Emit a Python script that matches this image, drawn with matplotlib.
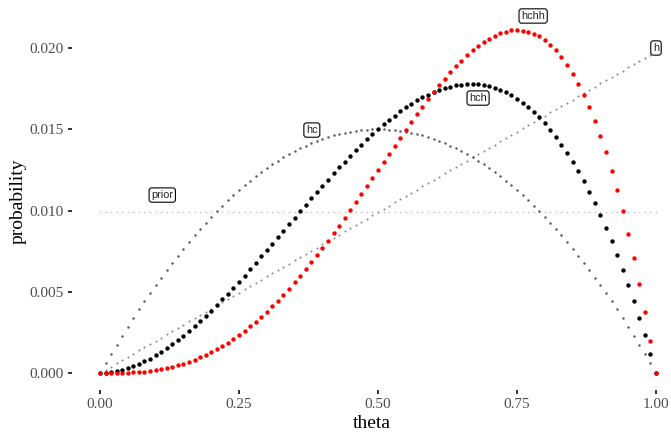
import numpy as np
import matplotlib
matplotlib.use("Agg")
import matplotlib.pyplot as plt

# theta grid (0.00 .. 1.00, step 0.01)
theta = [i / 100 for i in range(101)]

prior = [0.00990] * 101

h = [0.00000, 0.00020, 0.00040, 0.00059, 0.00079, 0.00099, 0.00119, 0.00139, 0.00158, 0.00178,
     0.00198, 0.00218, 0.00238, 0.00257, 0.00277, 0.00297, 0.00317, 0.00337, 0.00356, 0.00376,
     0.00396, 0.00416, 0.00436, 0.00455, 0.00475, 0.00495, 0.00515, 0.00535, 0.00554, 0.00574,
     0.00594, 0.00614, 0.00634, 0.00653, 0.00673, 0.00693, 0.00713, 0.00733, 0.00752, 0.00772,
     0.00792, 0.00812, 0.00832, 0.00851, 0.00871, 0.00891, 0.00911, 0.00931, 0.00950, 0.00970,
     0.00990, 0.01010, 0.01030, 0.01050, 0.01069, 0.01089, 0.01109, 0.01129, 0.01149, 0.01168,
     0.01188, 0.01208, 0.01228, 0.01248, 0.01267, 0.01287, 0.01307, 0.01327, 0.01347, 0.01366,
     0.01386, 0.01406, 0.01426, 0.01446, 0.01465, 0.01485, 0.01505, 0.01525, 0.01545, 0.01564,
     0.01584, 0.01604, 0.01624, 0.01644, 0.01663, 0.01683, 0.01703, 0.01723, 0.01743, 0.01762,
     0.01782, 0.01802, 0.01822, 0.01842, 0.01861, 0.01881, 0.01901, 0.01921, 0.01941, 0.01960,
     0.01980]

hc = [0.00000, 0.00059, 0.00118, 0.00175, 0.00230, 0.00285, 0.00338, 0.00391, 0.00442, 0.00491,
      0.00540, 0.00587, 0.00634, 0.00679, 0.00722, 0.00765, 0.00806, 0.00847, 0.00886, 0.00924,
      0.00960, 0.00996, 0.01030, 0.01063, 0.01095, 0.01125, 0.01155, 0.01183, 0.01210, 0.01236,
      0.01260, 0.01284, 0.01306, 0.01327, 0.01347, 0.01365, 0.01383, 0.01399, 0.01414, 0.01428,
      0.01440, 0.01452, 0.01462, 0.01471, 0.01479, 0.01485, 0.01491, 0.01495, 0.01498, 0.01500,
      0.01500, 0.01500, 0.01498, 0.01495, 0.01491, 0.01485, 0.01479, 0.01471, 0.01462, 0.01452,
      0.01440, 0.01428, 0.01414, 0.01399, 0.01383, 0.01365, 0.01347, 0.01327, 0.01306, 0.01284,
      0.01260, 0.01236, 0.01210, 0.01183, 0.01155, 0.01125, 0.01095, 0.01063, 0.01030, 0.00996,
      0.00960, 0.00924, 0.00886, 0.00847, 0.00806, 0.00765, 0.00722, 0.00679, 0.00634, 0.00587,
      0.00540, 0.00491, 0.00442, 0.00391, 0.00338, 0.00285, 0.00230, 0.00175, 0.00118, 0.00059,
      0.00000]

hch = [0.00000, 0.00001, 0.00005, 0.00010, 0.00018, 0.00029, 0.00041, 0.00055, 0.00071, 0.00088,
       0.00108, 0.00129, 0.00152, 0.00176, 0.00202, 0.00230, 0.00258, 0.00288, 0.00319, 0.00351,
       0.00384, 0.00418, 0.00453, 0.00489, 0.00525, 0.00563, 0.00600, 0.00639, 0.00677, 0.00717,
       0.00756, 0.00796, 0.00836, 0.00876, 0.00916, 0.00956, 0.00995, 0.01035, 0.01074, 0.01113,
       0.01152, 0.01190, 0.01228, 0.01265, 0.01301, 0.01337, 0.01371, 0.01405, 0.01438, 0.01470,
       0.01500, 0.01530, 0.01558, 0.01584, 0.01610, 0.01634, 0.01656, 0.01677, 0.01696, 0.01713,
       0.01728, 0.01742, 0.01753, 0.01762, 0.01770, 0.01775, 0.01777, 0.01778, 0.01776, 0.01771,
       0.01764, 0.01754, 0.01742, 0.01727, 0.01709, 0.01688, 0.01664, 0.01637, 0.01606, 0.01573,
       0.01536, 0.01496, 0.01453, 0.01405, 0.01355, 0.01301, 0.01243, 0.01181, 0.01115, 0.01046,
       0.00972, 0.00894, 0.00813, 0.00727, 0.00636, 0.00542, 0.00442, 0.00339, 0.00231, 0.00118,
       0.00000]

hchh = [0.00000, 0.00000, 0.00000, 0.00001, 0.00001, 0.00002, 0.00004, 0.00006, 0.00009, 0.00013,
        0.00018, 0.00024, 0.00030, 0.00038, 0.00047, 0.00057, 0.00069, 0.00082, 0.00096, 0.00111,
        0.00128, 0.00146, 0.00166, 0.00187, 0.00210, 0.00234, 0.00260, 0.00287, 0.00316, 0.00346,
        0.00378, 0.00411, 0.00446, 0.00482, 0.00519, 0.00557, 0.00597, 0.00638, 0.00681, 0.00724,
        0.00768, 0.00813, 0.00860, 0.00907, 0.00954, 0.01003, 0.01051, 0.01101, 0.01150, 0.01200,
        0.01250, 0.01300, 0.01350, 0.01400, 0.01449, 0.01498, 0.01546, 0.01593, 0.01639, 0.01684,
        0.01728, 0.01771, 0.01812, 0.01851, 0.01888, 0.01923, 0.01955, 0.01985, 0.02013, 0.02037,
        0.02058, 0.02076, 0.02091, 0.02101, 0.02108, 0.02110, 0.02107, 0.02100, 0.02088, 0.02071,
        0.02048, 0.02020, 0.01985, 0.01944, 0.01897, 0.01843, 0.01781, 0.01712, 0.01636, 0.01551,
        0.01458, 0.01357, 0.01246, 0.01126, 0.00997, 0.00858, 0.00708, 0.00548, 0.00377, 0.00194,
        0.00000]

# label name, theta, probability
labels = [("prior", 0.112, 0.01095), ("hc", 0.381, 0.01495), ("hch", 0.68, 0.01692),
          ("hchh", 0.779, 0.02197), ("h", 1.0, 0.0200)]

x_ticks = [0.00, 0.25, 0.50, 0.75, 1.00]
y_ticks = [0.000, 0.005, 0.010, 0.015, 0.020]

W, H = 671, 432
fig = plt.figure(figsize=(W / 100, H / 100), dpi=100)
# panel: theta 0 -> px 100, 1 -> px 656 ; prob 0 -> py 373, 0.02 -> py 48
x_left = 100 - 0.05 * 556
ax = fig.add_axes([x_left / W, (H - 390) / H, (W - x_left) / W, (390 - 13) / H])
ax.set_xlim(-0.05, -0.05 + (W - x_left) / 556)
ax.set_ylim(-(390 - 373) / 16250, (373 - 13) / 16250)

ax.scatter(theta, prior, s=1.4, color="#c4c4c4", linewidths=0, zorder=2)
ax.scatter(theta, h, s=2.2, color="#8c8c8c", linewidths=0, zorder=3)
ax.scatter(theta, hc, s=3.2, color="#5a5a5a", linewidths=0, zorder=4)
ax.scatter(theta, hch, s=10, color="black", linewidths=0, zorder=5)
ax.scatter(theta, hchh, s=10, color="red", linewidths=0, zorder=6)

for name, lx, ly in labels:
    ax.text(lx, ly, name, ha="center", va="center", fontsize=7.8,
            family="Liberation Sans", color="#222222", zorder=7,
            bbox=dict(boxstyle="round,pad=0.2,rounding_size=0.25", fc="white",
                      ec="black", lw=0.8))

for s in ax.spines.values():
    s.set_visible(False)
ax.set_xticks(x_ticks)
ax.set_xticklabels(["%.2f" % v for v in x_ticks])
ax.set_yticks(y_ticks)
ax.set_yticklabels(["%.3f" % v for v in y_ticks])
ax.tick_params(length=3, width=1.3, color="#222222", labelcolor="#4d4d4d",
               labelsize=11, pad=3)
for lab in ax.get_xticklabels() + ax.get_yticklabels():
    lab.set_family("Liberation Serif")
ax.set_xlabel("theta", family="Liberation Serif", fontsize=14, labelpad=2.5)
ax.set_ylabel("probability", family="Liberation Serif", fontsize=14, labelpad=2)

fig.savefig("out.png", dpi=100)
